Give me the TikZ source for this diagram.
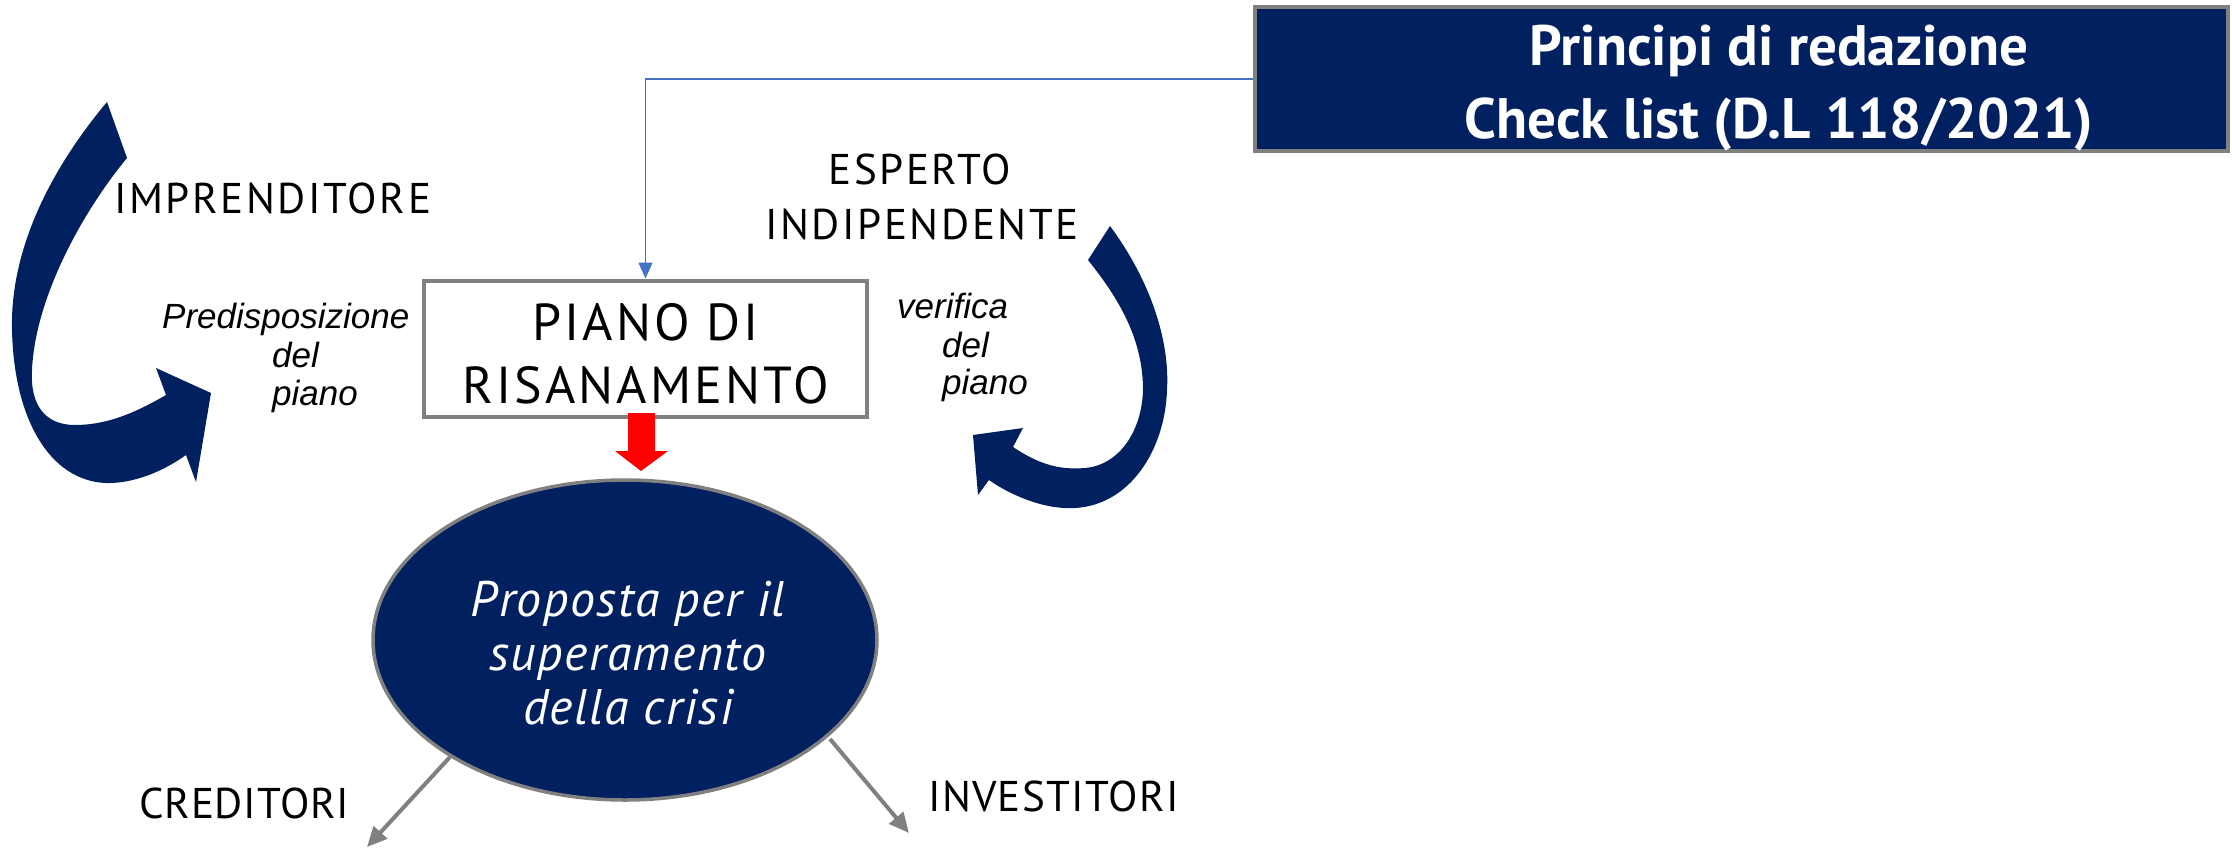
\documentclass[tikz,border=0pt]{standalone}
\usepackage{fontspec}
\setmainfont{PT Sans}
\newfontfamily\arialf{Liberation Sans}
\newfontfamily\lblfont[LetterSpace=6]{PT Sans}
\newfontfamily\pianofont[LetterSpace=6]{PT Sans}
\newfontfamily\botfont[LetterSpace=3]{PT Sans}
\newfontfamily\credfont[LetterSpace=2]{PT Sans}
\newfontfamily\ellfont[LetterSpace=3]{PT Sans}
\usetikzlibrary{arrows.meta,shapes.geometric}
\definecolor{navy}{HTML}{002060}
\definecolor{bordergray}{HTML}{808080}
\definecolor{linkblue}{HTML}{4472C4}
\tikzset{
  lbl/.style={inner sep=0pt, font=\lblfont\fontsize{43}{50}\selectfont, text=black},
  botlbl/.style={inner sep=0pt, font=\botfont\fontsize{43}{50}\selectfont, text=black},
  credlbl/.style={inner sep=0pt, font=\credfont\fontsize{43}{50}\selectfont, text=black},
  itl/.style={inner sep=0pt, font=\arialf\itshape\fontsize{35}{40}\selectfont, text=black},
  elltxt/.style={inner sep=0pt, font=\ellfont\itshape\fontsize{50}{54}\selectfont, text=white},
  boxtxt/.style={inner sep=0pt, font=\bfseries\fontsize{57}{60}\selectfont, text=white},
  pianotxt/.style={inner sep=0pt, font=\pianofont\fontsize{52}{63}\selectfont, text=black},
  curvearrow/.style={fill=navy, draw=none},
  grayarrow/.style={draw=bordergray, line width=4pt, -{Triangle[length=20pt,width=18pt]}},
}
\begin{document}
\begin{tikzpicture}[x=1pt,y=-1pt]
\useasboundingbox (0,0) rectangle (2232,848);
\fill[white] (0,0) rectangle (2232,848);

% top right box
\node[draw=bordergray, line width=4pt, fill=navy, minimum width=973pt, minimum height=144pt, inner sep=0pt] (principi) at (1741.5,79) {};
\node[boxtxt, anchor=base] (pr1) at (1779,66) {Principi di redazione};
\node[boxtxt, anchor=base] (pr2) at (1779,139) {Check list (D.L 118/2021)};

% piano box
\node[draw=bordergray, line width=4pt, fill=white, minimum width=443pt, minimum height=136pt, inner sep=0pt] (piano) at (645.5,348.5) {};
\node[pianotxt, anchor=base] (p1) at (645.5,340) {PIANO DI};
\node[pianotxt, anchor=base] (p2) at (645.5,403) {RISANAMENTO};

% blue connector
\draw[linkblue, line width=1.5pt, -{Triangle[length=16pt,width=14pt]}] (principi.west) -| (piano.north);

% red arrow
\fill[red] (628,413) -- (655,413) -- (655,451) -- (668,451) -- (641,471) -- (615,451) -- (628,451) -- cycle;

% ellipse
\node[ellipse, draw=bordergray, line width=3.5pt, fill=navy, minimum width=504pt, minimum height=320pt, inner sep=0pt] (ell) at (625,640) {};
\node[elltxt, anchor=base] (e1) at (628,616) {Proposta per il};
\node[elltxt, anchor=base] (e2) at (628,670) {superamento};
\node[elltxt, anchor=base] (e3) at (628,724) {della crisi};

% gray connectors
\coordinate (ls) at (450,757);
\coordinate (le) at (367,847);
\coordinate (rs) at (830,739);
\coordinate (re) at (909,833);
\draw[grayarrow] (ls) -- (le);
\draw[grayarrow] (rs) -- (re);

% labels
\node[lbl, anchor=base west] (impr) at (114,213) {IMPRENDITORE};
\node[lbl, anchor=base] (esp1) at (920,184) {ESPERTO};
\node[lbl, anchor=base] (esp2) at (922,239) {INDIPENDENTE};
\node[credlbl, anchor=base west] (cred) at (139,818) {CREDITORI};
\node[botlbl, anchor=base west] (inv) at (928,811) {INVESTITORI};

\node[itl, anchor=base west] (pd1) at (162,328) {Predisposizione};
\node[itl, anchor=base west] (pd2) at (272,367) {del};
\node[itl, anchor=base west] (pd3) at (272,405) {piano};
\node[itl, anchor=base west] (vf1) at (897,318) {verifica};
\node[itl, anchor=base west] (vf2) at (942,357) {del};
\node[itl, anchor=base west] (vf3) at (942,394) {piano};

% left curved arrow
\path[curvearrow] (107,102) .. controls (50,170) and (10,250) .. (12,330)
  .. controls (14,420) and (50,480) .. (105,483)
  .. controls (135,484) and (165,470) .. (186,455)
  -- (196,482) -- (211,393) -- (156,368) -- (166,395)
  .. controls (140,410) and (110,425) .. (75,425)
  .. controls (45,425) and (30,405) .. (32,370)
  .. controls (35,300) and (80,215) .. (127,158) -- cycle;

% right curved arrow
\path[curvearrow] (1110,226) .. controls (1150,280) and (1170,340) .. (1167,390)
  .. controls (1165,450) and (1130,505) .. (1075,508)
  .. controls (1045,510) and (1010,495) .. (989,480)
  -- (978,495) -- (973,435) -- (1023,428) -- (1013,447)
  .. controls (1040,465) and (1060,470) .. (1085,468)
  .. controls (1120,465) and (1142,430) .. (1143,390)
  .. controls (1143,340) and (1120,300) .. (1088,260) -- cycle;
\end{tikzpicture}
\end{document}
